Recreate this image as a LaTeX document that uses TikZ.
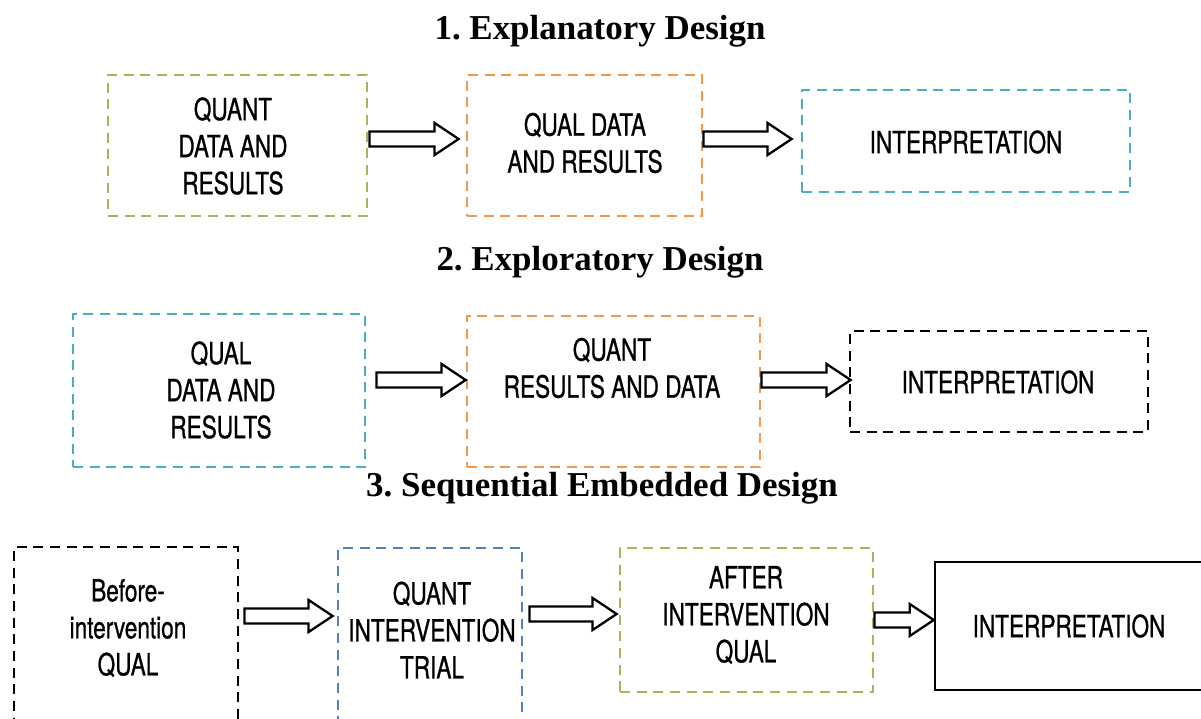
\documentclass[tikz,border=0pt]{standalone}
\usepackage{fontspec}
\setmainfont{Liberation Serif}
\newfontfamily\boxfont[FakeStretch=0.74,FakeBold=0.8]{TeX Gyre Heros}
\usetikzlibrary{fit,calc}

\definecolor{mmgreen}{HTML}{9BBB59}
\definecolor{mmorange}{HTML}{F79646}
\definecolor{mmcyan}{HTML}{4BACC6}
\definecolor{mmblue}{HTML}{4F81BD}

\tikzset{
  dbox/.style={draw=#1, line width=2.1pt, dash pattern=on 7.5pt off 5pt,
               inner sep=0pt, rectangle},
  sbox/.style={draw=black, line width=1.9pt, inner sep=0pt, rectangle},
  boxtext/.style={align=center, inner sep=0pt,
                  font=\boxfont\fontsize{22.9}{27.75}\selectfont},
  heading/.style={anchor=base, inner sep=0pt,
                  font=\fontsize{26.2}{30}\selectfont\bfseries\frenchspacing},
  fatarrow/.style={draw=black, fill=white, line width=1.7pt, line join=miter},
}

% Block arrow between two boxes at height #5 (px):
% #1 source node, #2 start offset, #3 target node, #4 tip offset
\newcommand\blockarrow[5]{%
  \draw[fatarrow]
    ($(#1.east |- 0,#5)+(#2,-7.5)$) --
    ($(#3.west |- 0,#5)+(#4-24,-7.5)$) --
    ($(#3.west |- 0,#5)+(#4-24,-16)$) --
    ($(#3.west |- 0,#5)+(#4,0)$) --
    ($(#3.west |- 0,#5)+(#4-24,16)$) --
    ($(#3.west |- 0,#5)+(#4-24,7.5)$) --
    ($(#1.east |- 0,#5)+(#2,7.5)$) -- cycle;}

\begin{document}
\begin{tikzpicture}[x=0.75pt, y=-0.75pt]
\useasboundingbox (0,0) rectangle (1201,718);
\clip (0,0) rectangle (1201,718);

% ---- 1. Explanatory Design ----
\node[heading] (t1) at (600,39) {1. Explanatory Design};
\node[dbox=mmgreen,  fit={(108,75) (367,216)}] (a) {};
\node[dbox=mmorange, fit={(467,75) (702,216)}] (b) {};
\node[dbox=mmcyan,   fit={(802,90) (1130,192)}] (c) {};
\node[boxtext] (at) at (233,146) {QUANT\\DATA AND\\RESULTS};
\node[boxtext] (bt) at (585,143) {QUAL DATA\\AND RESULTS};
\node[boxtext] (ct) at (966,142) {INTERPRETATION};
\blockarrow{a}{1}{b}{-7}{139}
\blockarrow{b}{0}{c}{-9}{139}

% ---- 2. Exploratory Design ----
\node[heading] (t2) at (600,270) {2. Exploratory Design};
\node[dbox=mmcyan,   fit={(73,314) (365,467)}] (d) {};
\node[dbox=mmorange, fit={(467,316) (760,467)}] (e) {};
\node[dbox=black,    fit={(850,331) (1148,432)}] (f) {};
\node[boxtext] (dt) at (221,390) {QUAL\\DATA AND\\RESULTS};
\node[boxtext] (et) at (612,368) {QUANT\\RESULTS AND DATA};
\node[boxtext] (ft) at (998,382) {INTERPRETATION};
\blockarrow{d}{10}{e}{0}{380}
\blockarrow{e}{0}{f}{2}{380}

% ---- 3. Sequential Embedded Design ----
\node[heading] (t3) at (602,496) {3. Sequential Embedded Design};
\node[dbox=black,   fit={(14,547) (238,745)}] (g) {};
\node[dbox=mmblue,  fit={(338,548) (522,745)}] (h) {};
\node[dbox=mmgreen, fit={(620,548) (873,692)}] (i) {};
\node[sbox,         fit={(935,562) (1230,690)}] (j) {};
\node[boxtext] (gt) at (128,628) {Before-\\intervention\\QUAL};
\node[boxtext] (ht) at (432,630) {QUANT\\INTERVENTION\\TRIAL};
\node[boxtext] (it) at (746,615) {AFTER\\INTERVENTION\\QUAL};
\node[boxtext] (jt) at (1069,626) {INTERPRETATION};
\blockarrow{g}{5}{h}{-4}{616}
\blockarrow{h}{6}{i}{-2}{614}
\blockarrow{i}{0}{j}{0}{620}
\end{tikzpicture}
\end{document}
